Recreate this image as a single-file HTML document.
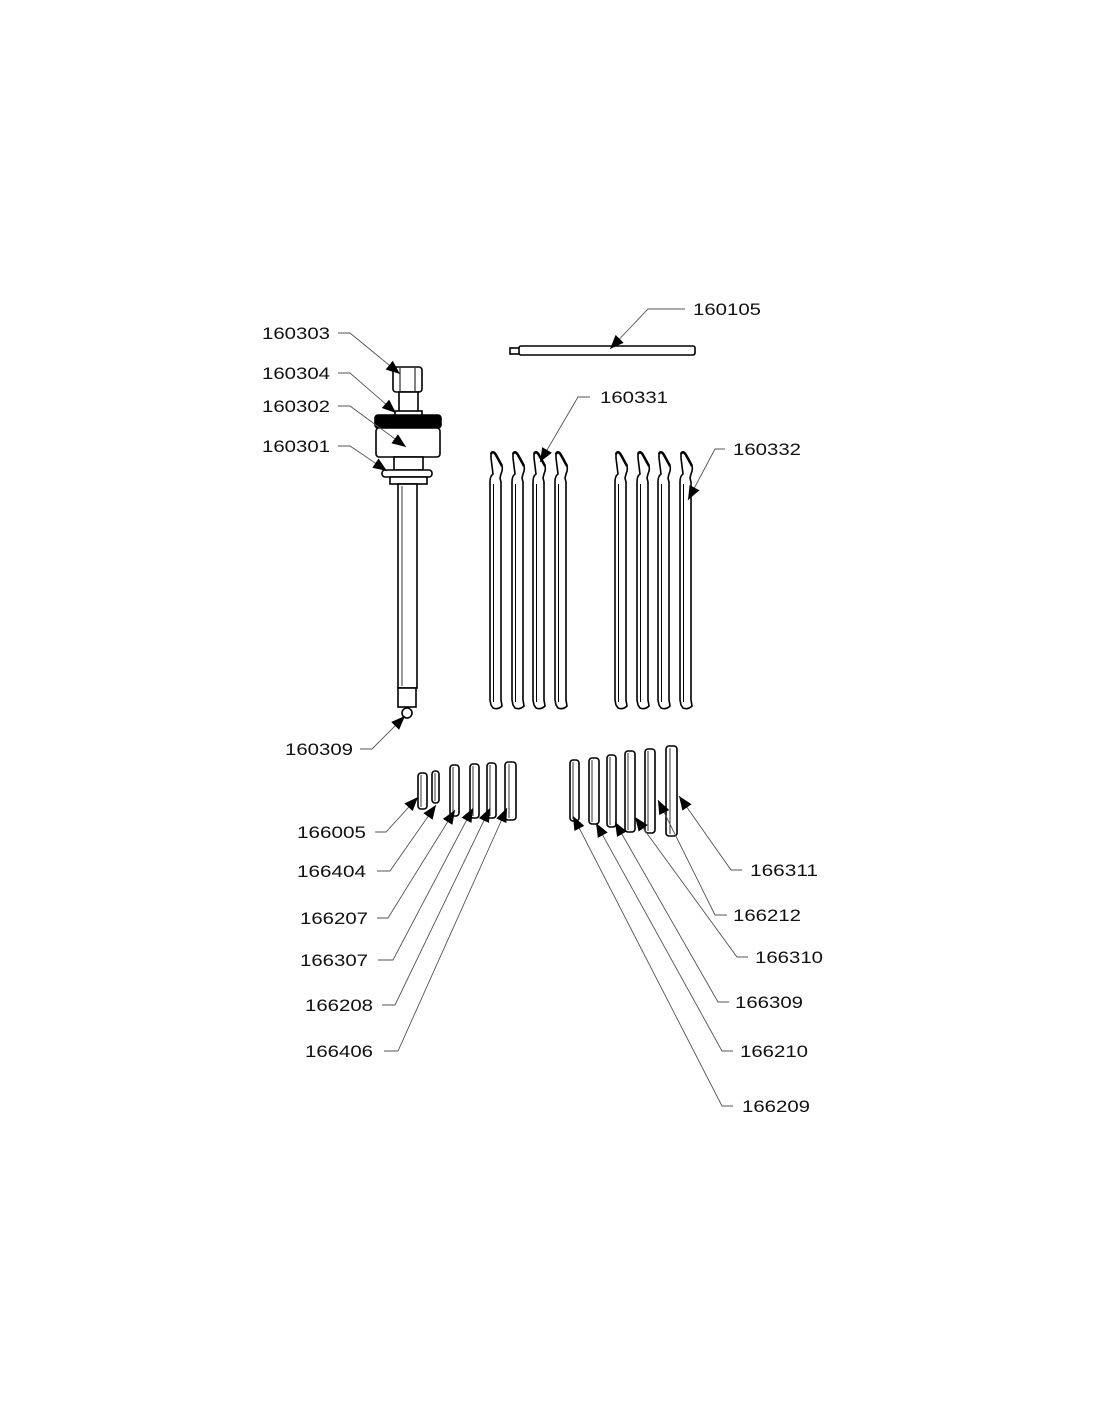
<!DOCTYPE html>
<html><head><meta charset="utf-8"><style>html,body{margin:0;padding:0;background:#fff}svg{display:block}text{font-family:"Liberation Sans",sans-serif;font-size:17px;fill:#111}</style></head>
<body>
<svg width="1100" height="1422" viewBox="0 0 1100 1422" xmlns="http://www.w3.org/2000/svg">
<defs>
<marker id="a" viewBox="0 0 10 10" refX="10" refY="5" markerWidth="14" markerHeight="14" markerUnits="userSpaceOnUse" orient="auto"><path d="M0,1 L10,5 L0,9 Z" fill="#000"/></marker>
<g id="blade">
<path d="M1,454 Q3,450 6,455 L12,466 Q13,470 11,474 L10,478 L11,482 L11,700 L12,706 Q8,710 3,708 L1,705 L0,700 L0,482 Q0,476 3,474 L2,466 L1,458 Z" fill="#fff" stroke="#000" stroke-width="1.6"/>
<line x1="3.5" y1="484" x2="3.5" y2="702" stroke="#000" stroke-width="1"/>
<path d="M1,454 Q3,450 6,455 L12,466" fill="none" stroke="#000" stroke-width="2.5"/>
</g>
</defs>
<g fill="#fff" stroke="#000" stroke-width="1.6">
<!-- main assembly -->
<rect x="393" y="367" width="29" height="25" rx="3"/>
<line x1="400" y1="368" x2="400" y2="391" stroke-width="1"/>
<line x1="415" y1="368" x2="415" y2="391" stroke-width="1"/>
<rect x="399" y="392" width="19" height="20"/>
<rect x="395" y="411" width="27" height="5"/>
<rect x="375" y="415" width="66" height="13" rx="3" fill="#000"/>
<rect x="376" y="428" width="64" height="29" rx="3"/>
<rect x="394" y="457" width="29" height="13"/>
<rect x="382" y="470" width="50" height="7" rx="3"/>
<rect x="390" y="477" width="37" height="7"/>
<rect x="398" y="484" width="19" height="204"/>
<line x1="402" y1="486" x2="402" y2="686" stroke-width="0.8"/>
<rect x="398" y="688" width="18" height="19"/>
<circle cx="407" cy="713" r="5"/>
<!-- rod 160105 -->
<rect x="510" y="348" width="10" height="6"/>
<rect x="519" y="346" width="176" height="9" rx="2"/>
<!-- pins left -->
<rect x="418" y="773" width="9" height="36" rx="3"/>
<rect x="432" y="771" width="7" height="32" rx="3"/>
<rect x="450" y="765" width="9" height="51" rx="3"/>
<rect x="470" y="764" width="9" height="54" rx="3"/>
<rect x="487" y="763" width="9" height="55" rx="3"/>
<rect x="505" y="762" width="11" height="58" rx="3"/>
<!-- pins right -->
<rect x="570" y="760" width="9" height="61" rx="3"/>
<rect x="589" y="758" width="10" height="66" rx="3"/>
<rect x="607" y="755" width="9" height="72" rx="3"/>
<rect x="625" y="751" width="10" height="81" rx="3"/>
<rect x="645" y="749" width="10" height="84" rx="3"/>
<rect x="666" y="746" width="11" height="90" rx="3"/>
</g>
<g stroke="#000" stroke-width="0.8">
<line x1="421" y1="775" x2="421" y2="807"/><line x1="435" y1="773" x2="435" y2="801"/>
<line x1="453" y1="767" x2="453" y2="814"/><line x1="473" y1="766" x2="473" y2="816"/>
<line x1="490" y1="765" x2="490" y2="816"/><line x1="509" y1="764" x2="509" y2="818"/>
<line x1="573" y1="762" x2="573" y2="819"/><line x1="592" y1="760" x2="592" y2="822"/>
<line x1="610" y1="757" x2="610" y2="825"/><line x1="628" y1="753" x2="628" y2="830"/>
<line x1="648" y1="751" x2="648" y2="831"/><line x1="670" y1="748" x2="670" y2="834"/>
</g>
<use href="#blade" x="490"/><use href="#blade" x="512"/><use href="#blade" x="533"/><use href="#blade" x="555"/>
<use href="#blade" x="615"/><use href="#blade" x="637"/><use href="#blade" x="658"/><use href="#blade" x="680"/>
<!-- leaders -->
<g fill="none" stroke="#555" stroke-width="0.9" marker-end="url(#a)">
<polyline points="338,333 350,333 400,374"/>
<polyline points="338,373 350,373 396,413"/>
<polyline points="338,406 350,406 406,447"/>
<polyline points="338,446 350,446 387,471"/>
<polyline points="360,749 372,749 405,716"/>
<polyline points="685,309 648,309 610,349"/>
<polyline points="590,397 578,397 540,462"/>
<polyline points="725,449 715,449 688,500"/>
<polyline points="375,832 386,832 418,797"/>
<polyline points="377,871 390,871 436,805"/>
<polyline points="377,918 388,918 455,810"/>
<polyline points="378,960 393,960 473,808"/>
<polyline points="382,1005 395,1005 490,808"/>
<polyline points="384,1051 398,1051 507,808"/>
<polyline points="742,870 731,870 679,796"/>
<polyline points="727,915 715,915 658,800"/>
<polyline points="748,957 737,957 635,817"/>
<polyline points="729,1002 718,1002 615,822"/>
<polyline points="733,1051 722,1051 596,823"/>
<polyline points="733,1106 722,1106 573,816"/>
</g>
<g>
<text x="262" y="339" textLength="68" lengthAdjust="spacingAndGlyphs">160303</text>
<text x="262" y="379" textLength="68" lengthAdjust="spacingAndGlyphs">160304</text>
<text x="262" y="412" textLength="68" lengthAdjust="spacingAndGlyphs">160302</text>
<text x="262" y="452" textLength="68" lengthAdjust="spacingAndGlyphs">160301</text>
<text x="285" y="755" textLength="68" lengthAdjust="spacingAndGlyphs">160309</text>
<text x="693" y="315" textLength="68" lengthAdjust="spacingAndGlyphs">160105</text>
<text x="600" y="403" textLength="68" lengthAdjust="spacingAndGlyphs">160331</text>
<text x="733" y="455" textLength="68" lengthAdjust="spacingAndGlyphs">160332</text>
<text x="297" y="838" textLength="69" lengthAdjust="spacingAndGlyphs">166005</text>
<text x="297" y="877" textLength="69" lengthAdjust="spacingAndGlyphs">166404</text>
<text x="300" y="924" textLength="68" lengthAdjust="spacingAndGlyphs">166207</text>
<text x="300" y="966" textLength="68" lengthAdjust="spacingAndGlyphs">166307</text>
<text x="305" y="1011" textLength="68" lengthAdjust="spacingAndGlyphs">166208</text>
<text x="305" y="1057" textLength="68" lengthAdjust="spacingAndGlyphs">166406</text>
<text x="750" y="876" textLength="68" lengthAdjust="spacingAndGlyphs">166311</text>
<text x="733" y="921" textLength="68" lengthAdjust="spacingAndGlyphs">166212</text>
<text x="755" y="963" textLength="68" lengthAdjust="spacingAndGlyphs">166310</text>
<text x="735" y="1008" textLength="68" lengthAdjust="spacingAndGlyphs">166309</text>
<text x="740" y="1057" textLength="68" lengthAdjust="spacingAndGlyphs">166210</text>
<text x="742" y="1112" textLength="68" lengthAdjust="spacingAndGlyphs">166209</text>
</g>
</svg>
</body></html>
